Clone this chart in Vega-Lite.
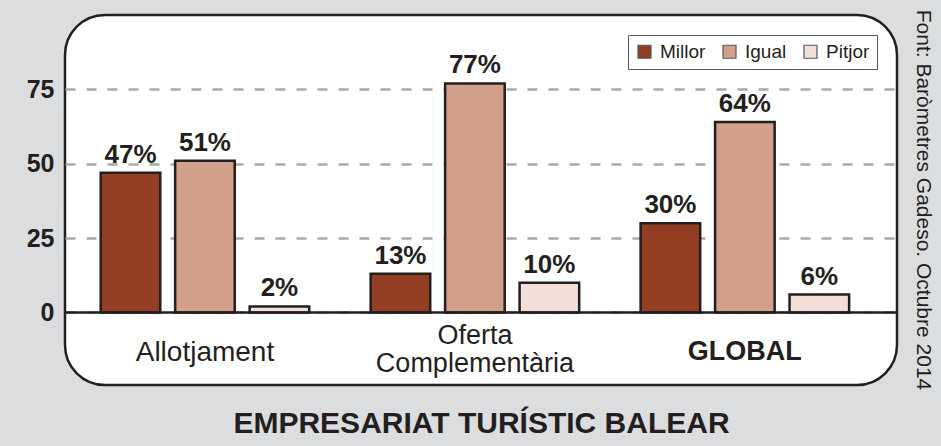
{
  "$schema": "https://vega.github.io/schema/vega-lite/v6.json",
  "width": 832,
  "height": 370,
  "autosize": {"type": "none"},
  "padding": {"left": 65, "top": 15, "right": 44, "bottom": 61},
  "background": "#dcdddf",
  "config": {
    "font": "Liberation Sans",
    "view": {"fill": "white", "stroke": "#231f20", "strokeWidth": 2.5, "cornerRadius": 40}
  },
  "title": {
    "text": "Font: Baròmetres Gadeso. Octubre 2014",
    "orient": "right",
    "anchor": "middle",
    "fontSize": 21,
    "fontWeight": "normal",
    "color": "#231f20",
    "offset": 15
  },
  "data": {
    "values": [
      {"category": "Allotjament", "series": "Millor", "value": 47, "label": "47%"},
      {"category": "Allotjament", "series": "Igual", "value": 51, "label": "51%"},
      {"category": "Allotjament", "series": "Pitjor", "value": 2, "label": "2%"},
      {"category": "Oferta Complementària", "series": "Millor", "value": 13, "label": "13%"},
      {"category": "Oferta Complementària", "series": "Igual", "value": 77, "label": "77%"},
      {"category": "Oferta Complementària", "series": "Pitjor", "value": 10, "label": "10%"},
      {"category": "GLOBAL", "series": "Millor", "value": 30, "label": "30%"},
      {"category": "GLOBAL", "series": "Igual", "value": 64, "label": "64%"},
      {"category": "GLOBAL", "series": "Pitjor", "value": 6, "label": "6%"}
    ]
  },
  "layer": [
    {
      "mark": {"type": "bar", "stroke": "#231f20", "strokeWidth": 2.5},
      "encoding": {
        "x": {
          "field": "category", "type": "nominal", "sort": null,
          "scale": {"paddingInner": 0.2, "paddingOuter": 0.141, "align": 0.42},
          "axis": {
            "labels": false, "ticks": false, "domain": false,
            "title": "EMPRESARIAT TURÍSTIC BALEAR",
            "titleFontSize": 30, "titleFontWeight": "bold", "titleColor": "#231f20", "titlePadding": 23
          }
        },
        "xOffset": {
          "field": "series", "type": "nominal", "sort": ["Millor", "Igual", "Pitjor"],
          "scale": {"paddingInner": 0.2, "paddingOuter": 0.05}
        },
        "y": {
          "field": "value", "type": "quantitative",
          "scale": {"domain": [-24.4, 100], "nice": false, "zero": false},
          "axis": {
            "values": [0, 25, 50, 75], "title": null, "ticks": false, "domain": false,
            "labelFontSize": 25, "labelFontWeight": "bold", "labelColor": "#231f20", "labelPadding": 11,
            "gridColor": "#a7a9ac", "gridWidth": 2.5, "gridDash": [10, 11]
          }
        },
        "color": {
          "field": "series", "type": "nominal",
          "scale": {"domain": ["Millor", "Igual", "Pitjor"], "range": ["#933e23", "#d2a08a", "#f2e0d8"]},
          "legend": {
            "title": null, "orient": "top-right", "offset": 20, "direction": "horizontal",
            "fillColor": "white", "strokeColor": "#58595b", "padding": 7,
            "symbolType": "square", "symbolSize": 169, "symbolStrokeColor": "#58595b", "symbolStrokeWidth": 1.2,
            "labelFontSize": 19, "labelColor": "#231f20", "columnPadding": 14, "labelOffset": 6
          }
        }
      }
    },
    {
      "mark": {"type": "text", "fontSize": 26, "fontWeight": "bold", "color": "#231f20", "baseline": "alphabetic", "dy": -10},
      "encoding": {
        "x": {"field": "category", "type": "nominal", "sort": null},
        "xOffset": {"field": "series", "type": "nominal", "sort": ["Millor", "Igual", "Pitjor"]},
        "y": {"field": "value", "type": "quantitative"},
        "text": {"field": "label"}
      }
    },
    {
      "transform": [{"filter": "datum.series === 'Millor' && datum.category === 'Allotjament'"}],
      "mark": {"type": "text", "fontSize": 28, "color": "#231f20", "baseline": "alphabetic"},
      "encoding": {
        "x": {"field": "category", "type": "nominal", "sort": null},
        "y": {"datum": -16.3},
        "text": {"field": "category"}
      }
    },
    {
      "transform": [{"filter": "datum.series === 'Millor' && datum.category === 'Oferta Complementària'"}],
      "mark": {"type": "text", "fontSize": 27, "color": "#231f20", "baseline": "alphabetic", "lineBreak": " ", "lineHeight": 28},
      "encoding": {
        "x": {"field": "category", "type": "nominal", "sort": null},
        "y": {"datum": -10.7},
        "text": {"field": "category"}
      }
    },
    {
      "transform": [{"filter": "datum.series === 'Millor' && datum.category === 'GLOBAL'"}],
      "mark": {"type": "text", "fontSize": 27, "fontWeight": "bold", "color": "#231f20", "baseline": "alphabetic"},
      "encoding": {
        "x": {"field": "category", "type": "nominal", "sort": null},
        "y": {"datum": -16},
        "text": {"field": "category"}
      }
    },
    {
      "data": {"values": [{}]},
      "mark": {"type": "rule", "color": "#231f20", "strokeWidth": 2.5},
      "encoding": {"y": {"datum": 0}}
    }
  ]
}
